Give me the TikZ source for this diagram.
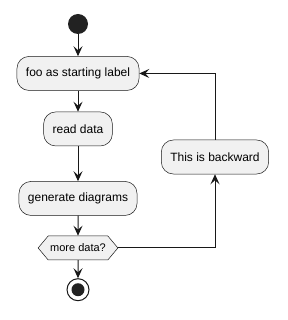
\documentclass[tikz,border=0pt]{standalone}
\usepackage{fontspec}
\setmainfont{Liberation Sans}
\usetikzlibrary{positioning,shapes.symbols,arrows.meta}
\definecolor{actfill}{HTML}{F1F1F1}
\definecolor{actline}{HTML}{181818}
\definecolor{dotfill}{HTML}{222222}

\begin{document}
\begin{tikzpicture}[
    x=1pt, y=-1pt,
    activity/.style={rectangle, draw=actline, fill=actfill, line width=0.5pt,
      rounded corners=12pt, minimum height=34pt, inner xsep=9pt,
      font=\fontsize{12}{14}\selectfont},
    choice/.style={signal, signal to=west and east, signal pointer angle=100,
      draw=actline, fill=actfill, line width=0.5pt, minimum height=24pt,
      inner xsep=2pt, font=\fontsize{11}{13}\selectfont},
    startdot/.style={circle, fill=dotfill, inner sep=0pt, minimum size=20pt},
    stopdot/.style={circle, draw=actline, fill=white, line width=1pt,
      inner sep=0pt, minimum size=22pt,
      path picture={\fill[dotfill] (path picture bounding box.center) circle (6.5pt);}},
    arrow/.style={-{Stealth[length=10pt, width=9pt, inset=4pt]}, line width=1pt, draw=actline}
  ]
    \useasboundingbox (0,0) rectangle (288,320);

    \node[startdot] (start) at (78,24) {};
    \node[activity, below=22pt of start] (foo)  {foo as starting label};
    \node[activity, below=21pt of foo]   (read) {read data};
    \node[activity, below=35pt of read]  (gen)  {generate diagrams};
    \node[choice,   below=20pt of gen]   (more) {more data?};
    \node[stopdot,  below=18pt of more]  (stop) {};
    \node[activity] (back) at (215,157) {This is backward};

    \draw[arrow] (start) -- (foo);
    \draw[arrow] (foo)   -- (read);
    \draw[arrow] (read)  -- (gen);
    \draw[arrow] (gen)   -- (more);
    \draw[arrow] (more)  -- (stop);
    \draw[arrow] (more.east) -| (back.south);
    \draw[arrow] (back.north) |- (foo.east);
  \end{tikzpicture}
\end{document}
